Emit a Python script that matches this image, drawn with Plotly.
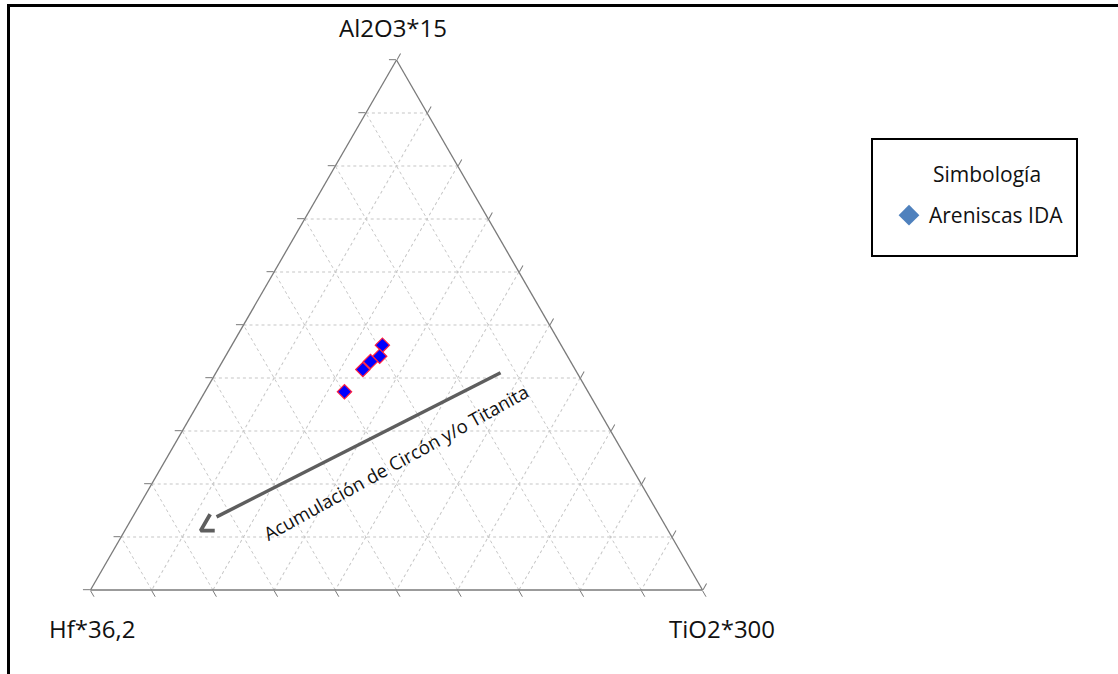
import plotly.graph_objects as go

# --- data (normalized percentages, a = Al2O3*15, b = Hf*36,2, c = TiO2*300)
sample_al = [46.2, 44.1, 43.1, 41.6, 37.4]
sample_hf = [29.2, 30.7, 32.7, 34.7, 39.8]
sample_ti = [24.6, 25.2, 24.2, 23.7, 22.8]

# trend arrow (shaft) and its open head
arrow_al = [41.0, 13.8]
arrow_hf = [12.5, 72.5]
arrow_ti = [46.5, 13.7]
head_al = [14.3, 11.2, 11.2]
head_hf = [73.3, 76.4, 74.1]
head_ti = [12.4, 12.4, 14.7]

vertex_labels = ["Al2O3*15", "Hf*36,2", "TiO2*300"]

FONT = "Open Sans"
W, H = 1118, 674

# triangle geometry in pixels
side = 612
tri_h = side * 3 ** 0.5 / 2
cx, cy = 396.5, 325
x0, x1 = cx - side / 2, cx + side / 2
ytop, ybot = cy - tri_h / 2, cy + tri_h / 2

fig = go.Figure()

fig.add_trace(go.Scatterternary(
    a=arrow_al, b=arrow_hf, c=arrow_ti, mode="lines",
    line=dict(color="#5e5e5e", width=3.5), showlegend=False, hoverinfo="skip"))
fig.add_trace(go.Scatterternary(
    a=head_al, b=head_hf, c=head_ti, mode="lines",
    line=dict(color="#5e5e5e", width=3.8), showlegend=False, hoverinfo="skip"))

fig.add_trace(go.Scatterternary(
    a=sample_al, b=sample_hf, c=sample_ti, mode="markers",
    marker=dict(symbol="diamond", size=11, color="#0000ff",
                line=dict(color="#ff2040", width=1.2)),
    showlegend=False, name="Areniscas IDA"))

# legend-only entry
fig.add_trace(go.Scatterternary(
    a=[None], b=[None], c=[None], mode="markers",
    marker=dict(symbol="diamond", size=16, color="#4f81bd"),
    name="Areniscas IDA", showlegend=True))

axis_common = dict(
    showgrid=True, gridcolor="#c6c6c6", griddash="dot", gridwidth=1,
    linecolor="#7a7a7a", linewidth=1.3,
    ticks="outside", ticklen=7, tickcolor="#7a7a7a", tickwidth=1,
    tick0=0, dtick=10, showticklabels=False,
    title=dict(text=""),
)

label_font = dict(family=FONT, size=24, color="#111111")

fig.update_layout(
    width=W, height=H,
    margin=dict(l=0, r=0, t=0, b=0, pad=0),
    paper_bgcolor="white", plot_bgcolor="white",
    font=dict(family=FONT, color="#111111"),
    ternary=dict(
        domain=dict(x=[x0 / W, x1 / W], y=[1 - ybot / H, 1 - ytop / H]),
        sum=100, bgcolor="white",
        aaxis=axis_common, baxis=axis_common, caxis=axis_common,
    ),
    showlegend=True,
    legend=dict(
        x=889 / W, y=1 - 195 / H, xanchor="left", yanchor="top",
        bgcolor="rgba(0,0,0,0)", borderwidth=0,
        font=dict(family=FONT, size=21, color="#111111"),
    ),
    shapes=[
        dict(type="rect", xref="paper", yref="paper",
             x0=872 / W, x1=1077 / W, y0=1 - 256 / H, y1=1 - 139 / H,
             line=dict(color="black", width=2), fillcolor="rgba(0,0,0,0)"),
        dict(type="line", xref="paper", yref="paper",
             x0=7 / W, x1=1, y0=1 - 5.5 / H, y1=1 - 5.5 / H,
             line=dict(color="black", width=3)),
        dict(type="line", xref="paper", yref="paper",
             x0=8.5 / W, x1=8.5 / W, y0=0, y1=1 - 4 / H,
             line=dict(color="black", width=3)),
    ],
    annotations=[
        dict(text=vertex_labels[0], xref="paper", yref="paper",
             x=393 / W, y=1 - 28 / H, showarrow=False, font=label_font,
             xanchor="center", yanchor="middle"),
        dict(text=vertex_labels[1], xref="paper", yref="paper",
             x=92 / W, y=1 - 628 / H, showarrow=False, font=label_font,
             xanchor="center", yanchor="middle"),
        dict(text=vertex_labels[2], xref="paper", yref="paper",
             x=722 / W, y=1 - 628 / H, showarrow=False, font=label_font,
             xanchor="center", yanchor="middle"),
        dict(text="Acumulación de Circón y/o Titanita", xref="paper", yref="paper",
             x=395 / W, y=1 - 462 / H, showarrow=False, textangle=-29,
             font=dict(family=FONT, size=18.5, color="#111111"),
             xanchor="center", yanchor="middle"),
        dict(text="Simbología", xref="paper", yref="paper",
             x=987 / W, y=1 - 174 / H, showarrow=False,
             font=dict(family=FONT, size=21, color="#111111"),
             xanchor="center", yanchor="middle"),
    ],
)

fig.write_html("out.html", config={"displayModeBar": False},
               post_script="document.body.style.margin='0';")
